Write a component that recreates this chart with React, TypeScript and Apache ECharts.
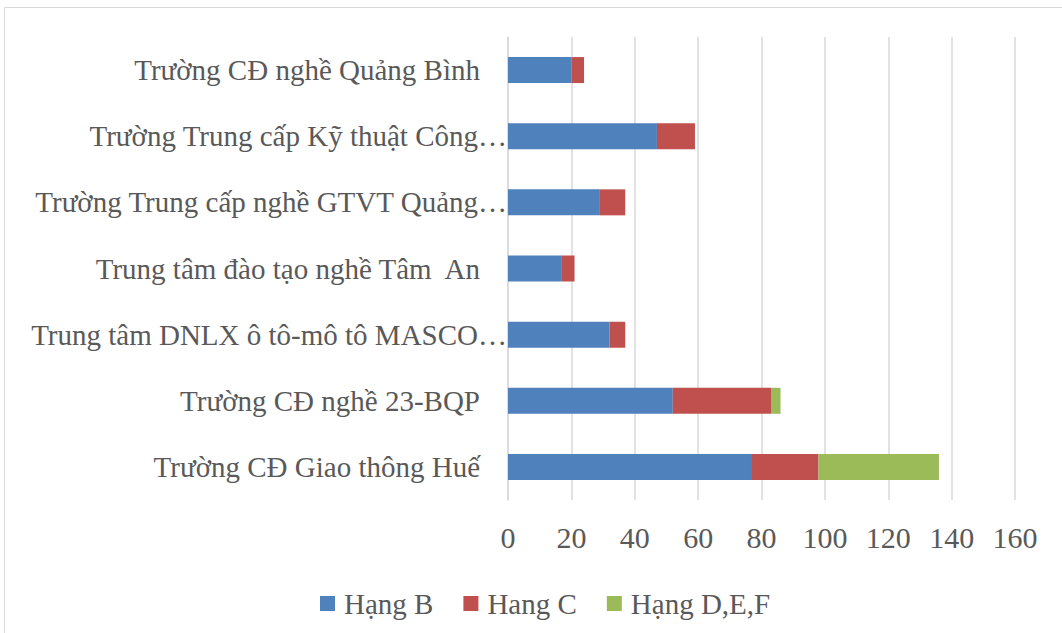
import React, { useEffect, useRef } from "react";
import * as echarts from "echarts";

const categories = [
  "Trường CĐ Giao thông Huế",
  "Trường CĐ nghề 23-BQP",
  "Trung tâm DNLX ô tô-mô tô MASCO…",
  "Trung tâm đào tạo nghề Tâm  An",
  "Trường Trung cấp nghề GTVT Quảng…",
  "Trường Trung cấp Kỹ thuật Công…",
  "Trường CĐ nghề Quảng Bình",
];
const hangB = [77, 52, 32, 17, 29, 47, 20];
const hangC = [21, 31, 5, 4, 8, 12, 4];
const hangDEF = [38, 3, 0, 0, 0, 0, 0];
const seriesNames = ["Hạng B", "Hang C", "Hạng D,E,F"];
const xTicks = [0, 160, 20];

const FONT = "'Liberation Serif', 'Times New Roman', serif";

export default function App() {
  const ref = useRef<HTMLDivElement>(null);
  useEffect(() => {
    if (!ref.current) return;
    const chart = echarts.init(ref.current, undefined, { renderer: "svg" });
    const mk = (name: string, data: number[], color: string) => ({
      name,
      type: "bar",
      stack: "total",
      data: data.map((v) => (v === 0 ? null : v)),
      barWidth: 26,
      itemStyle: { color },
    });
    const labelStyle = { color: "#595959", fontSize: 29, fontFamily: FONT };
    chart.setOption({
      animation: false,
      backgroundColor: "#ffffff",
      textStyle: { fontFamily: FONT },
      graphic: [
        {
          type: "rect",
          shape: { x: 4.5, y: 7.5, width: 1100, height: 700 },
          style: { fill: "none", stroke: "#d9d9d9", lineWidth: 1 },
          silent: true,
        },
      ],
      grid: { left: 508, right: 47, top: 37, bottom: 133, containLabel: false },
      xAxis: {
        type: "value",
        min: xTicks[0],
        max: xTicks[1],
        interval: xTicks[2],
        axisLine: { show: false },
        axisTick: { show: false },
        splitLine: { show: true, lineStyle: { color: "#d9d9d9", width: 1.5 } },
        axisLabel: { color: "#595959", fontSize: 30, fontFamily: FONT, margin: 22 },
      },
      yAxis: {
        type: "category",
        data: categories,
        axisLine: { show: true, lineStyle: { color: "#d9d9d9", width: 1.5 } },
        axisTick: { show: false },
        axisLabel: {
          ...labelStyle,
          margin: 1,
          formatter: (v: string) =>
            v.endsWith("…") ? "{e|" + v + "}" : "{t|" + v + "}",
          rich: {
            t: { ...labelStyle, padding: [0, 27, 0, 0] },
            e: { ...labelStyle },
          },
        },
      },
      legend: {
        left: 315,
        top: 584,
        itemWidth: 15,
        itemHeight: 15,
        itemGap: 30,
        icon: "rect",
        textStyle: { color: "#595959", fontSize: 29, fontFamily: FONT, padding: [0, 0, 0, 4] },
        data: seriesNames,
      },
      series: [
        mk(seriesNames[0], hangB, "#4F81BD"),
        mk(seriesNames[1], hangC, "#C0504D"),
        mk(seriesNames[2], hangDEF, "#9BBB59"),
      ],
    });
    return () => chart.dispose();
  }, []);
  return (
    <div
      ref={ref}
      style={{ position: "fixed", left: 0, top: 0, width: 1062, height: 633 }}
    />
  );
}
